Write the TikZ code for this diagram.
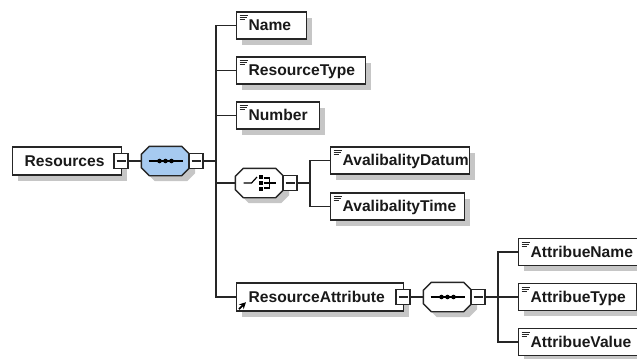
\documentclass[tikz,border=0pt]{standalone}
\usepackage{fontspec}
\setmainfont{Liberation Sans}
\usetikzlibrary{shadows,arrows.meta}

\newdimen\px
\px=0.75pt
\newdimen\octl
\newdimen\octb
\newdimen\octr
\newdimen\octt
\definecolor{seqblue}{HTML}{A6CAF0}
\definecolor{shadowgray}{HTML}{C6C6C6}

\makeatletter
\pgfdeclareshape{octshape}{
	\inheritsavedanchors[from=rectangle]
	\inheritanchorborder[from=rectangle]
	\inheritanchor[from=rectangle]{center}
	\inheritanchor[from=rectangle]{west}
	\inheritanchor[from=rectangle]{east}
	\backgroundpath{
		\southwest \octl=\pgf@x \octb=\pgf@y
		\northeast \octr=\pgf@x \octt=\pgf@y
		\pgfpathmoveto{\pgfqpoint{\octl}{\dimexpr\octb+6pt}}
		\pgfpathlineto{\pgfqpoint{\octl}{\dimexpr\octt-6pt}}
		\pgfpathlineto{\pgfqpoint{\dimexpr\octl+6pt}{\octt}}
		\pgfpathlineto{\pgfqpoint{\dimexpr\octr-6pt}{\octt}}
		\pgfpathlineto{\pgfqpoint{\octr}{\dimexpr\octt-6pt}}
		\pgfpathlineto{\pgfqpoint{\octr}{\dimexpr\octb+6pt}}
		\pgfpathlineto{\pgfqpoint{\dimexpr\octr-6pt}{\octb}}
		\pgfpathlineto{\pgfqpoint{\dimexpr\octl+6pt}{\octb}}
		\pgfpathclose
	}
}
\makeatother

\tikzset{
	boxshadow/.style={drop shadow={shadow xshift=5.5\px,shadow yshift=-5.5\px,fill=shadowgray,opacity=1}},
	boxbase/.style n args={2}{draw=black!85,line width=1pt,fill=white,boxshadow,rectangle,anchor=west,inner ysep=0pt,inner xsep=12\px,
		minimum height=#2\px,text width=#1\px-24\px,align=left,text height=8.2pt,text depth=0.3pt,text=black!90,font=\fontsize{11.7}{14}\selectfont\bfseries},
	elembox/.style={boxbase={#1}{27},path picture={
		\draw[line width=0.7pt] ([shift={(3,3.5)}]path picture bounding box.north west) -- ++(8,0);
		\draw[line width=0.7pt] ([shift={(3,5.5)}]path picture bounding box.north west) -- ++(7,0);
		\draw[line width=0.7pt] ([shift={(3,7.5)}]path picture bounding box.north west) -- ++(5,0);}},
	refbox/.style={boxbase={#1}{28}},
	octbox/.style={draw=black!85,line width=1pt,shape=octshape,inner sep=0pt,minimum width=47\px,minimum height=28\px,fill=white,boxshadow},
	expbox/.style={draw=black!85,line width=1pt,fill=white,rectangle,inner sep=0pt,minimum width=14\px,minimum height=14.5\px,path picture={
		\draw[line width=0.85pt] ([xshift=2.5\px]path picture bounding box.west) -- ([xshift=-2.5\px]path picture bounding box.east);}},
	link/.style={draw=black!85,line width=0.95pt},
}

\newcommand{\seqicon}[1]{
	\draw[line width=0.9pt] ([xshift=-17\px]#1.center) -- ([xshift=17\px]#1.center);
	\foreach \dx in {-6,0,6}
		\fill ([xshift=\dx\px]#1.center) circle (2.3);
}
\newcommand{\choiceicon}[1]{
	\draw[line width=0.9pt] ([xshift=-16\px]#1.center) -- ([xshift=-8\px]#1.center) -- ([shift={(-2.5,-6)}]#1.center);
	\foreach \dy in {-6,0,6}
		\fill ([shift={(-0.5,\dy-1.8)}]#1.center) rectangle ([shift={(3,\dy+1.8)}]#1.center);
	\draw[line width=0.9pt] ([shift={(4,-5)}]#1.center) -- ([shift={(10,-5)}]#1.center) -- ([shift={(10,5)}]#1.center) -- ([shift={(4,5)}]#1.center);
	\draw[line width=0.9pt] ([shift={(4,0)}]#1.center) -- ([shift={(16,0)}]#1.center);
}

\begin{document}
\begin{tikzpicture}[x=0.75pt,y=-0.75pt]
		\useasboundingbox (0,0) rectangle (637,358);
		\node[refbox=109] (RS) at (12,161) {Resources};
		\node[expbox] (RSX) at (121,161) {};
		\node[octbox,fill=seqblue] (SQ) at (165.5,161) {};
		\node[expbox] (SQX) at (196,161) {};
		\seqicon{SQ}
		\coordinate (TR) at (216,161);
		\node[elembox=70] (NM) at (236,25.5) {Name};
		\node[elembox=129] (RT) at (236,70.5) {ResourceType};
		\node[elembox=83] (NR) at (236,115.5) {Number};
		\node[octbox] (CH) at (259.5,183) {};
		\node[expbox] (CHX) at (290,183) {};
		\choiceicon{CH}
		\coordinate (CB) at (310,183);
		\node[elembox=139] (AD) at (330,160.5) {AvalibalityDatum};
		\node[elembox=134] (AT) at (330,206.5) {AvalibalityTime};
		\node[refbox=167] (RA) at (236,297) {ResourceAttribute};
		\node[expbox] (RAX) at (403,297) {};
		\draw[-{Stealth[length=5pt,width=5pt]},line width=1.4pt] ([shift={(3,-2.5)}]RA.south west) -- ([shift={(10,-9.5)}]RA.south west);
		\node[octbox] (SB) at (447.5,297) {};
		\node[expbox] (SBX) at (478,297) {};
		\seqicon{SB}
		\coordinate (AB) at (498,297);
		\node[elembox=128] (AN) at (518,252) {AttribueName};
		\node[elembox=118] (AY) at (518,297) {AttribueType};
		\node[elembox=128] (AV) at (518,342) {AttribueValue};
		\draw[link] (RSX) -- (SQ);
		\draw[link] (SQX) -- (TR);
		\draw[link] (TR) |- (NM.west);
		\draw[link] (TR) |- (RT.west);
		\draw[link] (TR) |- (NR.west);
		\draw[link] (TR) |- (CH.west);
		\draw[link] (TR) |- (RA.west);
		\draw[link] (CHX) -- (CB);
		\draw[link] (CB) |- (AD.west);
		\draw[link] (CB) |- (AT.west);
		\draw[link] (RAX) -- (SB);
		\draw[link] (SBX) -- (AB);
		\draw[link] (AB) |- (AN.west);
		\draw[link] (AB) -- (AY.west);
		\draw[link] (AB) |- (AV.west);
	\end{tikzpicture}
\end{document}
